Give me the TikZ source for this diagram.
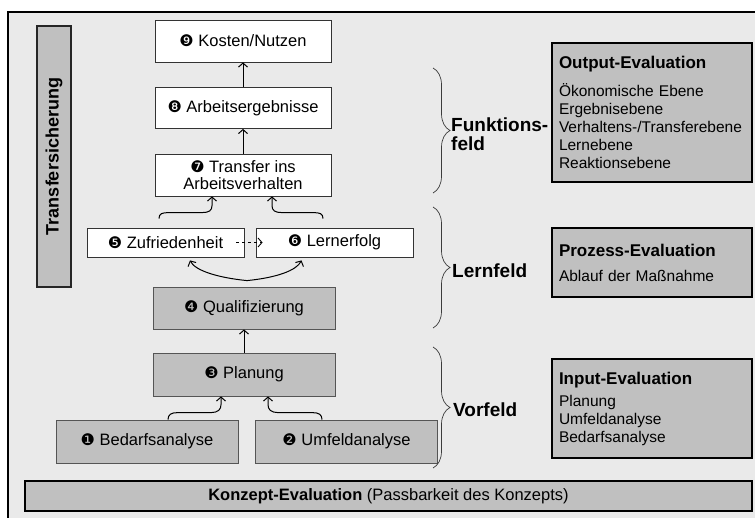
\documentclass[tikz,border=0pt]{standalone}
\usepackage{fontspec}
\setmainfont{Liberation Sans}
\newfontfamily\dingfont{DejaVu Sans}
\usepackage{tikz}
\usetikzlibrary{arrows.meta,positioning,calc,decorations.pathreplacing}
\definecolor{panelgray}{RGB}{234,234,234}
\definecolor{boxgray}{RGB}{192,192,192}
\definecolor{edgegray}{RGB}{85,85,85}
\definecolor{bracegray}{RGB}{60,60,60}
\newcommand{\nummark}[1]{{\dingfont\fontsize{16}{16}\selectfont #1}}
\newcommand{\evaltitle}[1]{{\fontsize{17}{18}\selectfont\bfseries #1}}

\begin{document}
\begin{tikzpicture}[x=1pt,y=-1pt,
    font=\fontsize{16.5}{17}\selectfont,
    whitebox/.style={draw=black!80,line width=0.8pt,fill=white,minimum width=176pt,inner sep=2pt,align=center},
    graybox/.style={draw=edgegray,line width=0.8pt,fill=boxgray,minimum width=182pt,minimum height=43pt},
    evalbox/.style={draw=black,line width=1.6pt,fill=boxgray,minimum width=200pt,text width=186pt,inner xsep=7pt,align=left,font=\fontsize{15.5}{18}\selectfont},
    fieldlabel/.style={font=\fontsize{19}{19}\selectfont\bfseries,align=left,anchor=west,inner sep=0pt},
    fieldbrace/.style={decorate,decoration={brace,amplitude=17pt},draw=bracegray,line width=0.7pt},
    flow/.style={-{Straight Barb[length=4pt,width=9pt]},line width=1pt},
    ]
    \useasboundingbox (0,0) rectangle (755,518);
    \fill[panelgray] (8,12) rectangle (755,518);
    \draw[line width=2pt] (8,518) -- (8,12) -- (755,12);

    \node[draw=black!85,line width=1.5pt,fill=boxgray,rotate=90,minimum width=261pt,minimum height=34pt,font=\fontsize{18}{18}\selectfont\bfseries] (sicherung) at (54,156.5) {Transfersicherung};

    \node[whitebox,minimum height=42pt] (kosten) at (243,41) {\nummark{❾} Kosten/Nutzen};
    \node[whitebox,minimum height=41pt] (ergebnis) at (243,108) {\nummark{❽} Arbeitsergebnisse};
    \node[whitebox,minimum height=42pt] (transfer) at (243,175) {\nummark{❼} Transfer ins\\Arbeitsverhalten};
    \node[whitebox,minimum width=157pt,minimum height=29pt] (zufrieden) at (165.5,242.5) {\nummark{❺} Zufriedenheit};
    \node[whitebox,minimum width=157pt,minimum height=29pt] (lernerfolg) at (334.5,242.5) {\nummark{❻} Lernerfolg};
    \node[graybox,minimum height=42pt] (quali) at (244,308) {\nummark{❹} Qualifizierung};
    \node[graybox] (planung) at (244,374.5) {\nummark{❸} Planung};
    \node[graybox] (bedarf) at (147,441.5) {\nummark{❶} Bedarfsanalyse};
    \node[graybox] (umfeld) at (346.5,441.5) {\nummark{❷} Umfeldanalyse};

    \node[draw=black,line width=1.6pt,fill=boxgray,minimum width=727pt,minimum height=30pt] (konzept) at (388.5,496) {\textbf{Konzept-Evaluation} (Passbarkeit des Konzepts)};

    \node[evalbox,minimum height=139pt] (outputeval) at (652,112.5) {\evaltitle{Output-Evaluation}\\[10pt]Ökonomische Ebene\\Ergebnisebene\\Verhaltens-/Transferebene\\Lernebene\\Reaktionsebene};
    \node[evalbox,minimum height=69pt] (prozesseval) at (652,262.5) {\evaltitle{Prozess-Evaluation}\\[7pt]Ablauf der Maßnahme};
    \node[evalbox,minimum height=99pt] (inputeval) at (652,408.5) {\evaltitle{Input-Evaluation}\\[4pt]Planung\\Umfeldanalyse\\Bedarfsanalyse};

    \draw[fieldbrace] (433,68) -- (433,193);
    \draw[fieldbrace] (433,207) -- (433,328);
    \draw[fieldbrace] (433,347) -- (433,468);
    \node[fieldlabel] (funktion) at (451,134) {Funktions-\\feld};
    \node[fieldlabel] (lernfeld) at (452,270.5) {Lernfeld};
    \node[fieldlabel] (vorfeld) at (453,409.5) {Vorfeld};

    \draw[flow] (ergebnis) -- (kosten);
    \draw[flow] (transfer) -- (ergebnis);
    \draw[flow] (planung) -- (quali);
    \draw[flow] ([xshift=-6.5pt,yshift=9pt]zufrieden.north) .. controls +(0,-5) and +(-7,0) .. ++(10,-6) -- ++(33,0) .. controls +(7,0) and +(0,5) .. ++(10,-7) -- ([xshift=-31pt]transfer.south);
    \draw[flow] ([xshift=-11.5pt,yshift=9pt]lernerfolg.north) .. controls +(0,-5) and +(7,0) .. ++(-10,-6) -- ++(-31,0) .. controls +(-7,0) and +(0,5) .. ++(-10,-7) -- ([xshift=29pt]transfer.south);
    \draw[flow] ([xshift=21pt]bedarf.north) .. controls +(0,-5) and +(-7,0) .. ++(10,-7) -- ++(33,0) .. controls +(7,0) and +(0,5) .. ++(10,-8) -- ([xshift=-23pt]planung.south);
    \draw[flow] ([xshift=-24.5pt]umfeld.north) .. controls +(0,-5) and +(7,0) .. ++(-10,-7) -- ++(-34,0) .. controls +(-7,0) and +(0,5) .. ++(-10,-8) -- ([xshift=24pt]planung.south);
    \draw[flow] ([xshift=3pt,yshift=6pt]quali.north) .. controls +(-30,-3) and +(5,10) .. ([xshift=24.5pt,yshift=-3pt]zufrieden.south);
    \draw[flow] ([xshift=3pt,yshift=6pt]quali.north) .. controls +(30,-3) and +(-5,10) .. ([xshift=-33pt,yshift=-3pt]lernerfolg.south);
    \draw[flow,line width=0.9pt,dash pattern=on 3pt off 3pt] ([xshift=-8pt]zufrieden.east) -- ([xshift=7pt]lernerfolg.west);
\end{tikzpicture}
\end{document}
